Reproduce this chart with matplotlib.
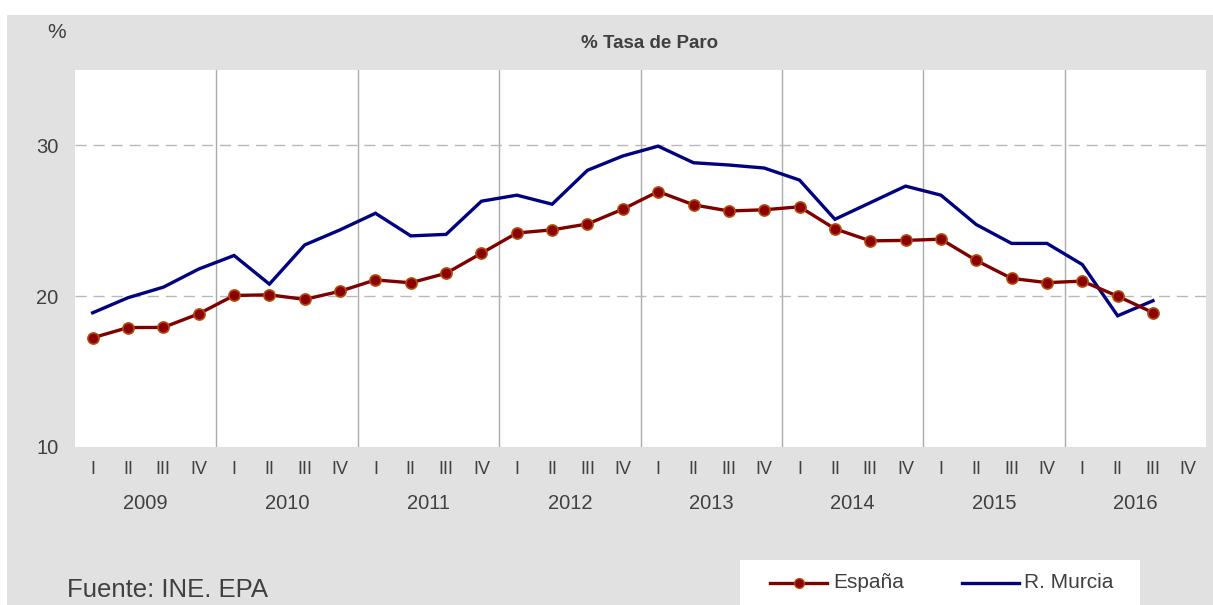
import matplotlib
matplotlib.use("Agg")
import matplotlib.pyplot as plt
from matplotlib.patches import Rectangle
from matplotlib.lines import Line2D

# ===== Data =====
years = ["2009", "2010", "2011", "2012", "2013", "2014", "2015", "2016"]
quarters = ["I", "II", "III", "IV"]

espana = [17.24, 17.92, 17.93, 18.83,
          20.05, 20.09, 19.79, 20.33,
          21.08, 20.89, 21.52, 22.85,
          24.19, 24.40, 24.79, 25.77,
          26.94, 26.06, 25.65, 25.73,
          25.93, 24.47, 23.67, 23.70,
          23.78, 22.37, 21.18, 20.90,
          21.00, 20.00, 18.91]

murcia = [18.9, 19.9, 20.6, 21.8,
          22.7, 20.8, 23.4, 24.4,
          25.5, 24.0, 24.1, 26.3,
          26.7, 26.1, 28.35, 29.3,
          29.95, 28.85, 28.7, 28.5,
          27.7, 25.1, 26.2, 27.3,
          26.7, 24.75, 23.5, 23.5,
          22.1, 18.7, 19.7]

# ===== Style =====
BG = "#e1e1e1"
TXT = "#404040"
FONT = ["Liberation Sans Narrow", "Liberation Sans", "DejaVu Sans"]
plt.rcParams["font.family"] = FONT

fig = plt.figure(figsize=(12.13, 6.05), dpi=100)
fig.patch.set_facecolor("white")
fig.patches.append(Rectangle((7 / 1213, 0), 1, 590 / 605, transform=fig.transFigure,
                             facecolor=BG, edgecolor="none", zorder=-10))

ax = fig.add_axes([75 / 1213, 1 - 447 / 605, 1131 / 1213, 377 / 605])
ax.set_facecolor("white")
for s in ax.spines.values():
    s.set_visible(False)

n_q = len(years) * len(quarters)
x_esp = list(range(len(espana)))
x_mur = list(range(len(murcia)))

ax.set_xlim(-0.5, n_q - 0.5)
ax.set_ylim(10, 35)

# grid
for k in range(1, len(years)):
    ax.axvline(4 * k - 0.5, color="#ababab", lw=1.0, zorder=1)
for yv in (20, 30):
    ax.axhline(yv, color="#b8b8b8", lw=1.0, ls=(0, (8, 5)), zorder=1)

ax.plot(x_mur, murcia, color="#000080", lw=2.4, zorder=3, solid_joinstyle="miter")
ax.plot(x_esp, espana, color="#800000", lw=2.4, marker="o", markersize=8,
        markerfacecolor="#8b0000", markeredgecolor="#b34a0a", markeredgewidth=1.2,
        zorder=4)

ax.set_yticks([10, 20, 30])
ax.set_yticklabels(["10", "20", "30"], fontsize=14.5, color=TXT)
ax.set_xticks(range(n_q))
ax.set_xticklabels(quarters * len(years), fontsize=13, color=TXT)
ax.tick_params(axis="both", length=0, pad=10)
ax.tick_params(axis="y", pad=12)

for i, yr in enumerate(years):
    ax.text(4 * i + 1.5, -0.15, yr, transform=ax.get_xaxis_transform(),
            ha="center", va="center", fontsize=14.5, color=TXT)

fig.text(57 / 1213, 1 - 32 / 605, "%", fontsize=15, color=TXT, ha="center", va="center")
fig.text(650 / 1213, 1 - 43 / 605, "% Tasa de Paro", fontsize=13.5, fontweight="bold",
         color=TXT, ha="center", va="center", family=["Liberation Sans", "DejaVu Sans"])
fig.text(67 / 1213, 1 - 590 / 605, "Fuente: INE. EPA", fontsize=18.5, color=TXT,
         ha="left", va="center")

# legend box
fig.patches.append(Rectangle((740 / 1213, 0), 400 / 1213, 45 / 605, transform=fig.transFigure,
                             facecolor="white", edgecolor="none", zorder=-5))
ly = 1 - 583 / 605
fig.lines.append(Line2D([770 / 1213, 827 / 1213], [ly, ly], transform=fig.transFigure,
                        color="#800000", lw=2.4))
fig.lines.append(Line2D([798.5 / 1213], [ly], transform=fig.transFigure, marker="o",
                        markersize=7, markerfacecolor="#8b0000", markeredgecolor="#b34a0a"))
fig.lines.append(Line2D([962 / 1213, 1019 / 1213], [ly, ly], transform=fig.transFigure,
                        color="#000080", lw=2.4))
fig.text(833 / 1213, ly, "España", fontsize=15, color=TXT, ha="left", va="center")
fig.text(1024 / 1213, ly, "R. Murcia", fontsize=15, color=TXT, ha="left", va="center")

fig.savefig("out.png", dpi=100, facecolor=fig.get_facecolor())
